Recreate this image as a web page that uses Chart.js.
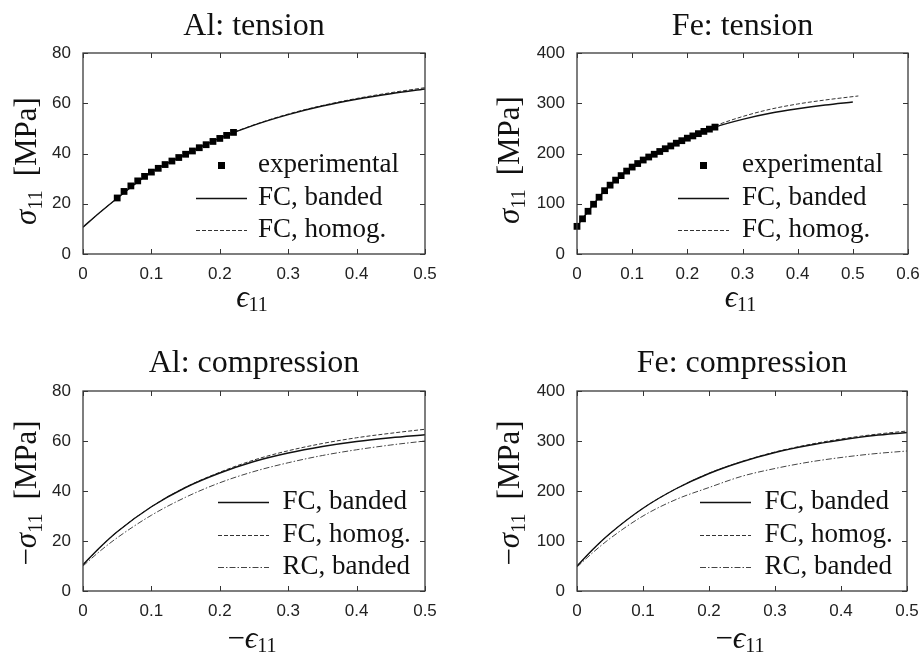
<!DOCTYPE html>
<html><head><meta charset="utf-8">
<script src="https://cdn.jsdelivr.net/npm/chart.js@4.4.1/dist/chart.umd.min.js"></script>
<style>
html,body{margin:0;padding:0;background:#fff;}
#wrap{position:relative;width:922px;height:654px;overflow:hidden;}
canvas{position:absolute;}
</style></head><body>
<div id="wrap">
<canvas id="c0" width="461" height="327" style="left:0;top:0"></canvas>
<canvas id="c1" width="461" height="327" style="left:461px;top:0"></canvas>
<canvas id="c2" width="461" height="327" style="left:0;top:327px"></canvas>
<canvas id="c3" width="461" height="327" style="left:461px;top:327px"></canvas>
</div>
<script>
// ---------- DATA ----------
const panelTitles = ['Al: tension', 'Fe: tension', 'Al: compression', 'Fe: compression'];
const seriesLabels = ['experimental', 'FC, banded', 'FC, homog.', 'RC, banded'];

// Al: tension
const alTenExpStrain = [0.05,0.06,0.07,0.08,0.09,0.10,0.11,0.12,0.13,0.14,0.15,0.16,0.17,0.18,0.19,0.20,0.21,0.22];
const alTenExpStress = [22.3,24.9,27.1,29.1,30.9,32.6,34.1,35.6,37.0,38.4,39.7,41.0,42.3,43.5,44.8,46.0,47.2,48.4];
const alTenStrain = [0,0.025,0.05,0.1,0.15,0.2,0.25,0.3,0.35,0.4,0.45,0.5];
const alTenBanded = [10.7,16.6,22.2,32.6,39.7,46.1,51.3,55.5,58.9,61.6,63.8,65.7];
const alTenHomog  = [10.7,16.6,22.2,32.6,39.7,46.2,51.4,55.7,59.1,61.9,64.2,66.2];

// Fe: tension
const feTenExpStrain = [0,0.01,0.02,0.03,0.04,0.05,0.06,0.07,0.08,0.09,0.10,0.11,0.12,0.13,0.14,0.15,0.16,0.17,0.18,0.19,0.20,0.21,0.22,0.23,0.24,0.25];
const feTenExpStress = [55,70,85,99,113,126,137,147,156,165,173,180,187,193,198.5,204,209.5,215,220.5,225.5,230.5,235,239.5,244,248.5,252.5];
const feTenBandedStrain = [0,0.025,0.05,0.1,0.15,0.2,0.25,0.3,0.35,0.4,0.45,0.5];
const feTenBanded = [55,92,126,173,204,230.5,252.5,268,280,289,296.5,302.5];
const feTenHomogStrain = [0,0.025,0.05,0.1,0.15,0.2,0.25,0.3,0.35,0.4,0.45,0.51];
const feTenHomog = [55,92,126,173,204.5,231.5,255,273.5,288,298.5,306.5,314.5];

// Al: compression
const alCompStrain = [0,0.025,0.05,0.1,0.15,0.2,0.25,0.3,0.35,0.4,0.45,0.5];
const alCompFCBanded = [10.5,17.5,23.7,33.7,41.4,47.2,51.8,55.2,57.8,59.8,61.3,62.5];
const alCompFCHomog  = [10.5,17.5,23.7,33.7,41.5,47.5,52.4,56.1,59.0,61.3,63.1,64.7];
const alCompRCBanded = [10,16,21.3,30.3,37.5,43.3,47.8,51.3,54.2,56.5,58.4,60];

// Fe: compression
const feCompStrain = [0,0.025,0.05,0.1,0.15,0.2,0.25,0.3,0.35,0.4,0.45,0.5];
const feCompFCBanded = [50,84.5,115,165.5,204.5,235,258.5,277,291,302,311,317];
const feCompFCHomog  = [50,84.5,115,165.5,204.5,235.5,259,278,292.5,304,313,320];
const feCompRCBanded = [48,78,105,150,183,207,229.5,245,257.5,267,274.5,280];

// Tick values and labels
const strainTicks05 = [0,0.1,0.2,0.3,0.4,0.5];
const strainTickLabels05 = ['0','0.1','0.2','0.3','0.4','0.5'];
const strainTicks06 = [0,0.1,0.2,0.3,0.4,0.5,0.6];
const strainTickLabels06 = ['0','0.1','0.2','0.3','0.4','0.5','0.6'];
const alStressTicks = [0,20,40,60,80];
const alStressTickLabels = ['0','20','40','60','80'];
const feStressTicks = [0,100,200,300,400];
const feStressTickLabels = ['0','100','200','300','400'];

// ---------- HELPERS ----------
const pts = (xs, ys) => xs.map((x, i) => ({x: x, y: ys[i]}));
const SERIF = '"Liberation Serif", "DejaVu Serif", serif';
const SANS = '"Liberation Sans", Arial, sans-serif';
const fMain = '31px ' + SERIF;
const fItal = 'italic 31px ' + SERIF;
const fSub = '20px ' + SERIF;

function expSet(xs, ys) {
  return {label: seriesLabels[0], data: pts(xs, ys), showLine: false, pointStyle: 'rect',
    pointRadius: 4.8, pointBorderWidth: 0, pointBackgroundColor: '#000', backgroundColor: '#000', borderColor: '#000', clip: false};
}
function solidSet(label, xs, ys) {
  return {label: label, data: pts(xs, ys), showLine: true, pointRadius: 0, borderWidth: 1.4,
    borderColor: '#111', cubicInterpolationMode: 'monotone', fill: false};
}
function dashSet(label, xs, ys) {
  return {label: label, data: pts(xs, ys), showLine: true, pointRadius: 0, borderWidth: 1,
    borderColor: '#333', borderDash: [4, 2], cubicInterpolationMode: 'monotone', fill: false};
}
function dashDotSet(label, xs, ys) {
  return {label: label, data: pts(xs, ys), showLine: true, pointRadius: 0, borderWidth: 1,
    borderColor: '#444', borderDash: [6, 2, 1.5, 2], cubicInterpolationMode: 'monotone', fill: false};
}

function drawRich(ctx, segs, x, y) {
  let cx = x;
  segs.forEach(s => { ctx.font = s.font; cx += (s.pre || 0); ctx.fillText(s.t, cx, y + (s.dy || 0)); cx += ctx.measureText(s.t).width; });
}
function richWidth(ctx, segs) {
  let w = 0;
  segs.forEach(s => { ctx.font = s.font; w += (s.pre || 0) + ctx.measureText(s.t).width; });
  return w;
}

function makeChart(id, cfg) {
  const decor = {
    id: 'decor' + id,
    afterDraw(chart) {
      const ctx = chart.ctx, a = chart.chartArea, xs = chart.scales.x, ys = chart.scales.y;
      ctx.save();
      // inward ticks on all four sides
      ctx.strokeStyle = '#333'; ctx.lineWidth = 1;
      ctx.beginPath();
      xs.ticks.forEach(t => { const p = Math.round(xs.getPixelForValue(t.value)) + 0.5;
        ctx.moveTo(p, a.bottom); ctx.lineTo(p, a.bottom - 5); ctx.moveTo(p, a.top); ctx.lineTo(p, a.top + 5); });
      ys.ticks.forEach(t => { const p = Math.round(ys.getPixelForValue(t.value)) + 0.5;
        ctx.moveTo(a.left, p); ctx.lineTo(a.left + 5, p); ctx.moveTo(a.right, p); ctx.lineTo(a.right - 5, p); });
      ctx.stroke();
      // frame
      ctx.lineWidth = 1.3; ctx.strokeStyle = '#3a3a3a';
      ctx.strokeRect(a.left, a.top, a.right - a.left, a.bottom - a.top);
      // legend inside plot
      const lg = cfg.legend;
      const x1 = a.right - lg.fromRight, x2 = x1 + 51;
      chart.data.datasets.forEach((ds, i) => {
        const ry = a.bottom - lg.rows[i];
        if (ds.showLine === false) {
          ctx.fillStyle = '#000';
          ctx.fillRect((x1 + x2) / 2 - 3.5, ry - 3.5, 7, 7);
        } else {
          ctx.strokeStyle = ds.borderColor; ctx.lineWidth = ds.borderWidth;
          ctx.setLineDash(ds.borderDash || []);
          ctx.beginPath(); ctx.moveTo(x1, ry); ctx.lineTo(x2, ry); ctx.stroke();
          ctx.setLineDash([]);
        }
        ctx.fillStyle = '#111'; ctx.font = '27px ' + SERIF; ctx.textBaseline = 'alphabetic'; ctx.textAlign = 'left';
        ctx.fillText(ds.label, x1 + lg.textGap, ry + 6);
      });
      // axis titles with subscripts
      ctx.fillStyle = '#111'; ctx.textBaseline = 'alphabetic'; ctx.textAlign = 'left';
      const wx = richWidth(ctx, cfg.xLabel);
      drawRich(ctx, cfg.xLabel, (a.left + a.right) / 2 - 2 - wx / 2, cfg.xLabelBaseline);
      const wy = richWidth(ctx, cfg.yLabel);
      ctx.translate(cfg.yLabelBaseline, cfg.yLabelCenter);
      ctx.rotate(-Math.PI / 2);
      drawRich(ctx, cfg.yLabel, -wy / 2, 0);
      ctx.restore();
    }
  };
  return new Chart(document.getElementById(id), {
    type: 'scatter',
    data: {datasets: cfg.datasets},
    options: {
      responsive: false, devicePixelRatio: 1, animation: false, events: [],
      layout: {padding: {left: 0, top: 0, right: 461 - cfg.area.right, bottom: 0}},
      plugins: {
        legend: {display: false}, tooltip: {enabled: false},
        title: {display: true, text: cfg.title, fullSize: false, color: '#111',
          font: {family: SERIF, size: 32, weight: 'normal', lineHeight: 1.2},
          padding: {top: cfg.titlePad[0], bottom: cfg.titlePad[1]}}
      },
      scales: {
        x: {type: 'linear', position: 'bottom', min: 0, max: cfg.xMax,
          grid: {display: false, drawTicks: false}, border: {display: false},
          ticks: {color: '#222', padding: 10, maxRotation: 0, autoSkip: false,
            font: {family: SANS, size: 17},
            callback: (v, i) => cfg.xTickLabels[i]},
          afterBuildTicks: s => { s.ticks = cfg.xTicks.map(v => ({value: v})); },
          afterFit: s => { s.height = 327 - cfg.area.bottom; s.paddingLeft = 0; s.paddingRight = 0; }
        },
        y: {type: 'linear', position: 'left', min: 0, max: cfg.yMax,
          grid: {display: false, drawTicks: false}, border: {display: false},
          ticks: {color: '#222', padding: 12, autoSkip: false,
            font: {family: SANS, size: 17},
            callback: (v, i) => cfg.yTickLabels[i]},
          afterBuildTicks: s => { s.ticks = cfg.yTicks.map(v => ({value: v})); },
          afterFit: s => { s.width = cfg.area.left; s.paddingTop = 0; s.paddingBottom = 0; }
        }
      }
    },
    plugins: [decor]
  });
}

const tenY = [{t: 'σ', font: fItal}, {t: '11', font: fSub, dy: 6}, {t: '[MPa]', font: fMain, pre: 14}];
const tenX = [{t: 'ϵ', font: fItal}, {t: '11', font: fSub, dy: 4}];
const compY = [{t: '−', font: fMain}, {t: 'σ', font: fItal}, {t: '11', font: fSub, dy: 6}, {t: '[MPa]', font: fMain, pre: 14}];
const compX = [{t: '−', font: fMain}, {t: 'ϵ', font: fItal}, {t: '11', font: fSub, dy: 4}];

makeChart('c0', {
  title: panelTitles[0], titlePad: [7.8, 6.8], area: {left: 83, right: 425, bottom: 254},
  xMax: 0.5, xTicks: strainTicks05, xTickLabels: strainTickLabels05,
  yMax: 80, yTicks: alStressTicks, yTickLabels: alStressTickLabels,
  xLabel: tenX, xLabelBaseline: 307, yLabel: tenY, yLabelBaseline: 36, yLabelCenter: 161,
  legend: {fromRight: 229, textGap: 62, rows: [88.5, 55.5, 23.5]},
  datasets: [expSet(alTenExpStrain, alTenExpStress), solidSet(seriesLabels[1], alTenStrain, alTenBanded), dashSet(seriesLabels[2], alTenStrain, alTenHomog)]
});
makeChart('c1', {
  title: panelTitles[1], titlePad: [7.8, 6.8], area: {left: 116, right: 447, bottom: 254},
  xMax: 0.6, xTicks: strainTicks06, xTickLabels: strainTickLabels06,
  yMax: 400, yTicks: feStressTicks, yTickLabels: feStressTickLabels,
  xLabel: tenX, xLabelBaseline: 307, yLabel: tenY, yLabelBaseline: 58, yLabelCenter: 160,
  legend: {fromRight: 230, textGap: 64, rows: [88.5, 55.5, 23.5]},
  datasets: [expSet(feTenExpStrain, feTenExpStress), solidSet(seriesLabels[1], feTenBandedStrain, feTenBanded), dashSet(seriesLabels[2], feTenHomogStrain, feTenHomog)]
});
makeChart('c2', {
  title: panelTitles[2], titlePad: [17.8, 7.8], area: {left: 83, right: 425, bottom: 264},
  xMax: 0.5, xTicks: strainTicks05, xTickLabels: strainTickLabels05,
  yMax: 80, yTicks: alStressTicks, yTickLabels: alStressTickLabels,
  xLabel: compX, xLabelBaseline: 321, yLabel: compY, yLabelBaseline: 36, yLabelCenter: 166,
  legend: {fromRight: 207, textGap: 64.5, rows: [88.5, 55.5, 23.5]},
  datasets: [solidSet(seriesLabels[1], alCompStrain, alCompFCBanded), dashSet(seriesLabels[2], alCompStrain, alCompFCHomog), dashDotSet(seriesLabels[3], alCompStrain, alCompRCBanded)]
});
makeChart('c3', {
  title: panelTitles[3], titlePad: [17.8, 7.8], area: {left: 116, right: 446, bottom: 264},
  xMax: 0.5, xTicks: strainTicks05, xTickLabels: strainTickLabels05,
  yMax: 400, yTicks: feStressTicks, yTickLabels: feStressTickLabels,
  xLabel: compX, xLabelBaseline: 321, yLabel: compY, yLabelBaseline: 58, yLabelCenter: 166,
  legend: {fromRight: 207, textGap: 64.5, rows: [88.5, 55.5, 23.5]},
  datasets: [solidSet(seriesLabels[1], feCompStrain, feCompFCBanded), dashSet(seriesLabels[2], feCompStrain, feCompFCHomog), dashDotSet(seriesLabels[3], feCompStrain, feCompRCBanded)]
});
</script>
</body></html>
